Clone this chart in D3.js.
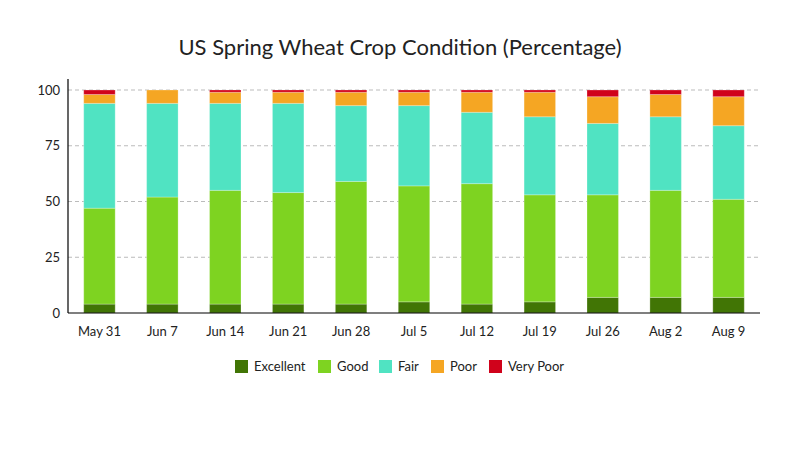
<!DOCTYPE html>
<html>
<head>
<meta charset="utf-8">
<script src="https://cdn.jsdelivr.net/npm/d3@7"></script>
<style>
  body { margin: 0; background: #fff; }
  text { font-family: Lato, "Open Sans", sans-serif; fill: #222; }
</style>
</head>
<body>
<div id="chart"></div>
<script>

const WIDTH = 800;
const HEIGHT = 450;

const PLOT_LEFT = 68;
const PLOT_RIGHT = 760;
const PLOT_TOP = 90;
const PLOT_BOTTOM = 313;

// -------------------------------------------------

const weeks = ["May 31", "Jun 7", "Jun 14", "Jun 21", "Jun 28", "Jul 5", "Jul 12", "Jul 19", "Jul 26", "Aug 2", "Aug 9"];
const categories = ["Excellent", "Good", "Fair", "Poor", "Very Poor"];
const colors = ["#417505", "#7ed321", "#50e3c2", "#f5a623", "#d0021b"];

const excellent = [4, 4, 4, 4, 4, 5, 4, 5, 7, 7, 7];
const good      = [43, 48, 51, 50, 55, 52, 54, 48, 46, 48, 44];
const fair      = [47, 42, 39, 40, 34, 36, 32, 35, 32, 33, 33];
const poor      = [4, 6, 5, 5, 6, 6, 9, 11, 12, 10, 13];
const very_poor = [2, 0, 1, 1, 1, 1, 1, 1, 3, 2, 3];

const y_ticks = [0, 25, 50, 75, 100];

// -------------------------------------------------

const series_values = [excellent, good, fair, poor, very_poor];

let rows = weeks.map(function (w, i) {
    let row = { week: w };
    categories.forEach(function (c, j) { row[c] = series_values[j][i]; });
    return row;
});

let stacked = d3.stack().keys(categories)(rows);

let svg = d3.select("#chart")
                .append("svg")
                    .attr("width", WIDTH)
                    .attr("height", HEIGHT);

let scaleX = d3.scaleBand()
                .domain(weeks)
                .range([PLOT_LEFT, PLOT_RIGHT])
                .paddingInner(0.5)
                .paddingOuter(0.25);

let scaleY = d3.scaleLinear()
                .domain([0, 100])
                .range([PLOT_BOTTOM, PLOT_TOP]);

// title
svg.append("text")
        .attr("x", WIDTH / 2)
        .attr("y", 55)
        .attr("text-anchor", "middle")
        .style("font-size", "22px")
        .text("US Spring Wheat Crop Condition (Percentage)");

// grid lines
svg.append("g")
    .selectAll("line")
    .data(y_ticks.filter(function (d) { return d > 0; }))
    .join("line")
        .attr("x1", PLOT_LEFT)
        .attr("x2", PLOT_RIGHT)
        .attr("y1", function (d) { return scaleY(d); })
        .attr("y2", function (d) { return scaleY(d); })
        .attr("stroke", "#bbb")
        .attr("stroke-dasharray", "4,3");

// bars
svg.append("g")
    .selectAll("g")
    .data(stacked)
    .join("g")
        .attr("fill", function (d, i) { return colors[i]; })
    .selectAll("rect")
    .data(function (d) { return d; })
    .join("rect")
        .attr("x", function (d) { return scaleX(d.data.week); })
        .attr("width", scaleX.bandwidth())
        .attr("y", function (d) { return scaleY(d[1]); })
        .attr("height", function (d) { return scaleY(d[0]) - scaleY(d[1]); })
        .attr("stroke", "#fff")
        .attr("stroke-opacity", 0.25)
        .attr("stroke-width", 1);

// y axis
let axisY = d3.axisLeft(scaleY)
                .tickValues(y_ticks)
                .tickSize(0)
                .tickPadding(8);

let gY = svg.append("g")
    .attr("transform", "translate(" + PLOT_LEFT + ",0)")
    .call(axisY);

gY.select(".domain").remove();
gY.selectAll("text").style("font-size", "13px").style("font-family", "Lato, sans-serif").attr("fill", "#222");

svg.append("line")
        .attr("x1", PLOT_LEFT)
        .attr("x2", PLOT_LEFT)
        .attr("y1", 79)
        .attr("y2", PLOT_BOTTOM)
        .attr("stroke", "#000")
        .attr("stroke-width", 1.2);

// x axis
let axisX = d3.axisBottom(scaleX)
                .tickSize(0)
                .tickPadding(14);

let gX = svg.append("g")
    .attr("transform", "translate(0," + PLOT_BOTTOM + ")")
    .call(axisX);

gX.select(".domain").remove();
gX.selectAll("text").style("font-size", "13px").style("font-family", "Lato, sans-serif").attr("fill", "#222");

svg.append("line")
        .attr("x1", PLOT_LEFT)
        .attr("x2", PLOT_RIGHT)
        .attr("y1", PLOT_BOTTOM)
        .attr("y2", PLOT_BOTTOM)
        .attr("stroke", "#000")
        .attr("stroke-width", 1.2);

// legend
const legend_x = [235, 318, 379, 431, 489];
let legend = svg.append("g")
    .selectAll("g")
    .data(categories)
    .join("g")
        .attr("transform", function (d, i) { return "translate(" + legend_x[i] + ",360)"; });

legend.append("rect")
        .attr("width", 13)
        .attr("height", 13)
        .attr("fill", function (d, i) { return colors[i]; });

legend.append("text")
        .attr("x", 19)
        .attr("y", 11)
        .style("font-size", "13px")
        .text(function (d) { return d; });

</script>
</body>
</html>
